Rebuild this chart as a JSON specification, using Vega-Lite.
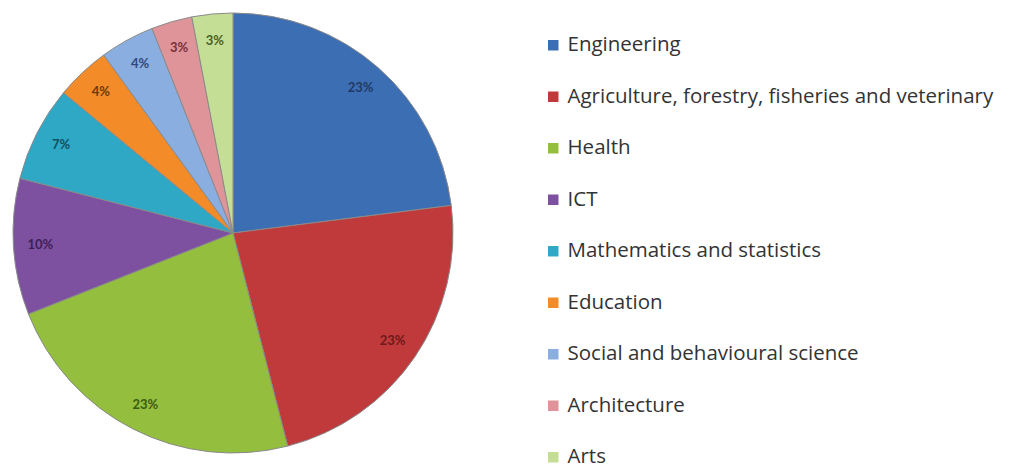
{
  "$schema": "https://vega.github.io/schema/vega-lite/v6.json",
  "width": 466,
  "height": 466,
  "padding": 0,
  "autosize": {"type": "pad"},
  "background": "white",
  "data": {
    "values": [
      {"idx": 1, "field": "Engineering", "share": 23, "label": "23%"},
      {"idx": 2, "field": "Agriculture, forestry, fisheries and veterinary", "share": 23, "label": "23%"},
      {"idx": 3, "field": "Health", "share": 23, "label": "23%"},
      {"idx": 4, "field": "ICT", "share": 10, "label": "10%"},
      {"idx": 5, "field": "Mathematics  and statistics", "share": 7, "label": "7%"},
      {"idx": 6, "field": "Education", "share": 4, "label": "4%"},
      {"idx": 7, "field": "Social and behavioural science", "share": 4, "label": "4%"},
      {"idx": 8, "field": "Architecture", "share": 3, "label": "3%"},
      {"idx": 9, "field": "Arts", "share": 3, "label": "3%"}
    ]
  },
  "encoding": {
    "theta": {"field": "share", "type": "quantitative", "stack": true},
    "order": {"field": "idx", "type": "quantitative"}
  },
  "layer": [
    {
      "mark": {"type": "arc", "outerRadius": 220, "stroke": "#8a8a8a", "strokeWidth": 1},
      "encoding": {
        "color": {
          "field": "field",
          "type": "nominal",
          "sort": {"field": "idx"},
          "scale": {
            "domain": ["Engineering", "Agriculture, forestry, fisheries and veterinary", "Health", "ICT", "Mathematics  and statistics", "Education", "Social and behavioural science", "Architecture", "Arts"],
            "range": ["#3c6eb4", "#c0393b", "#93be3e", "#7d51a0", "#2fa8c6", "#f38b28", "#8aaee0", "#df9499", "#c5de96"]
          },
          "legend": {
            "title": null,
            "orient": "none",
            "legendX": 543,
            "legendY": 35,
            "symbolType": "square",
            "symbolSize": 110,
            "symbolStrokeWidth": 0,
            "labelFont": "Open Sans",
            "labelFontSize": 20.5,
            "labelColor": "#333333",
            "labelLimit": 500,
            "labelOffset": 4,
            "rowPadding": 30.5,
            "labelBaseline": "middle"
          }
        }
      }
    },
    {
      "mark": {"type": "text", "radius": 193, "font": "Lato", "fontSize": 13, "fontWeight": "bold"},
      "encoding": {
        "text": {"field": "label"},
        "color": {
          "field": "field",
          "type": "nominal",
          "scale": {
            "domain": ["Engineering", "Agriculture, forestry, fisheries and veterinary", "Health", "ICT", "Mathematics  and statistics", "Education", "Social and behavioural science", "Architecture", "Arts"],
            "range": ["#1f3a66", "#6e1a1c", "#3e5a14", "#3c2058", "#124f5f", "#6b3a0a", "#2d4a7a", "#7a3035", "#4a5e22"]
          },
          "legend": null
        }
      }
    }
  ],
  "resolve": {"scale": {"color": "independent"}}
}
